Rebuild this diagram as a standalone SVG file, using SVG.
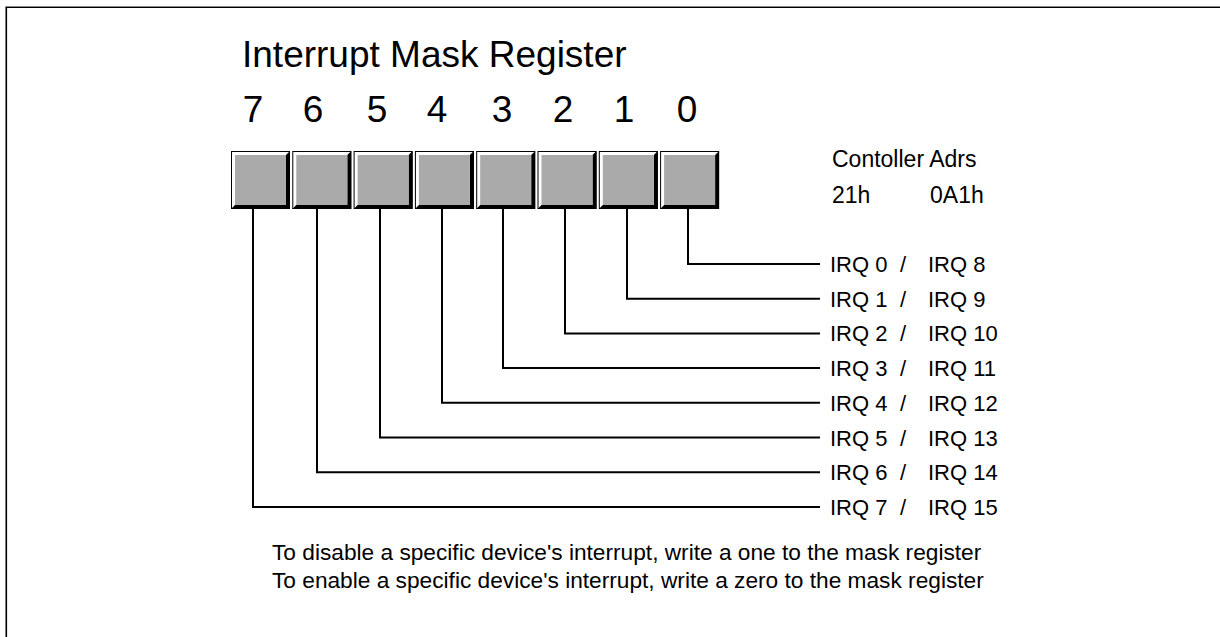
<svg xmlns="http://www.w3.org/2000/svg" width="1220" height="637" viewBox="0 0 1220 637">
<style>
text{font-family:"Liberation Sans",Arial,sans-serif;fill:#000}
.big{font-size:37px}
.lbl{font-size:22px}
.adr{font-size:23px}
.note{font-size:22.7px}
.wire{fill:none;stroke:#000;stroke-width:2}
.frame{fill:#fff;stroke:#000;stroke-width:1}
.shade{fill:#000}
.face{fill:#aaaaaa}
</style>
<defs>
<g id="bitbox">
<rect class="frame" x="0.5" y="0.5" width="58" height="57"/>
<polygon class="shade" points="59,0 59,58 0,58 4,54 55,54 55,4"/>
<rect class="face" x="4" y="4" width="51" height="50"/>
</g>
</defs>
<rect width="1220" height="637" fill="#fff"/>
<g id="border">
<path d="M5.5,637 V6.5 H1220" fill="none" stroke="#888" stroke-width="1"/>
<path d="M6.5,637 V7.5 H1220" fill="none" stroke="#000" stroke-width="1.2"/>
</g>
<g id="title"><text class="big" x="242" y="67">Interrupt Mask Register</text></g>
<g id="bit-numbers">
<text class="big" x="253" y="122" text-anchor="middle">7</text>
<text class="big" x="313" y="122" text-anchor="middle">6</text>
<text class="big" x="377" y="122" text-anchor="middle">5</text>
<text class="big" x="437" y="122" text-anchor="middle">4</text>
<text class="big" x="502" y="122" text-anchor="middle">3</text>
<text class="big" x="563" y="122" text-anchor="middle">2</text>
<text class="big" x="624" y="122" text-anchor="middle">1</text>
<text class="big" x="687" y="122" text-anchor="middle">0</text>
</g>
<g id="bit7"><use href="#bitbox" x="231" y="151"/></g>
<g id="bit6"><use href="#bitbox" x="292.3" y="151"/></g>
<g id="bit5"><use href="#bitbox" x="353.6" y="151"/></g>
<g id="bit4"><use href="#bitbox" x="414.9" y="151"/></g>
<g id="bit3"><use href="#bitbox" x="476.2" y="151"/></g>
<g id="bit2"><use href="#bitbox" x="537.5" y="151"/></g>
<g id="bit1"><use href="#bitbox" x="598.8" y="151"/></g>
<g id="bit0"><use href="#bitbox" x="660.1" y="151"/></g>
<g id="controller">
<text class="adr" x="832" y="167">Contoller Adrs</text>
<text class="adr" x="832" y="203">21h</text>
<text class="adr" x="930" y="203">0A1h</text>
</g>
<g id="connectors">
<path class="wire" d="M688,209 V264 H820"/>
<path class="wire" d="M627,209 V298.7 H820"/>
<path class="wire" d="M565,209 V333.4 H820"/>
<path class="wire" d="M503,209 V368.1 H820"/>
<path class="wire" d="M442,209 V402.8 H820"/>
<path class="wire" d="M380,209 V437.5 H820"/>
<path class="wire" d="M317,209 V472.2 H820"/>
<path class="wire" d="M253,209 V507 H820"/>
</g>
<g id="irq-labels">
<text class="lbl" y="272"><tspan x="830">IRQ 0</tspan><tspan x="900">/</tspan><tspan x="928">IRQ 8</tspan></text>
<text class="lbl" y="306.7"><tspan x="830">IRQ 1</tspan><tspan x="900">/</tspan><tspan x="928">IRQ 9</tspan></text>
<text class="lbl" y="341.4"><tspan x="830">IRQ 2</tspan><tspan x="900">/</tspan><tspan x="928">IRQ 10</tspan></text>
<text class="lbl" y="376.1"><tspan x="830">IRQ 3</tspan><tspan x="900">/</tspan><tspan x="928">IRQ 11</tspan></text>
<text class="lbl" y="410.8"><tspan x="830">IRQ 4</tspan><tspan x="900">/</tspan><tspan x="928">IRQ 12</tspan></text>
<text class="lbl" y="445.5"><tspan x="830">IRQ 5</tspan><tspan x="900">/</tspan><tspan x="928">IRQ 13</tspan></text>
<text class="lbl" y="480.2"><tspan x="830">IRQ 6</tspan><tspan x="900">/</tspan><tspan x="928">IRQ 14</tspan></text>
<text class="lbl" y="515"><tspan x="830">IRQ 7</tspan><tspan x="900">/</tspan><tspan x="928">IRQ 15</tspan></text>
</g>
<g id="notes">
<text class="note" x="272" y="560">To disable a specific device's interrupt, write a one to the mask register</text>
<text class="note" x="272" y="588">To enable a specific device's interrupt, write a zero to the mask register</text>
</g>
</svg>
